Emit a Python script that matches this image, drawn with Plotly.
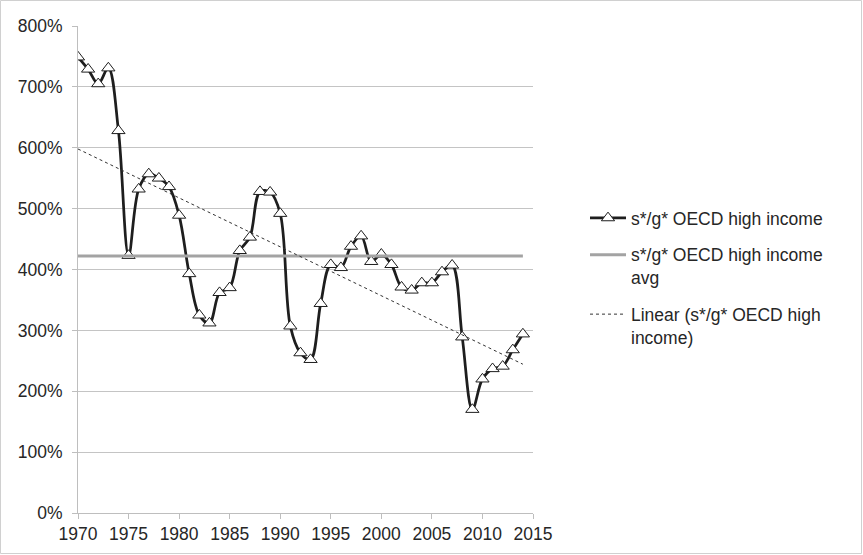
import numpy as np
import plotly.graph_objects as go

years = list(range(1970, 2015))
sg_values = [749, 729, 705, 731, 628, 423, 532, 557, 550, 536,
             489, 393, 325, 312, 362, 370, 431, 453, 528, 527,
             492, 307, 263, 252, 344, 408, 403, 438, 455, 413,
             425, 408, 371, 366, 378, 378, 396, 407, 289, 170,
             220, 237, 241, 268, 294]
avg_value = 422
x_ticks = list(range(1970, 2016, 5))
y_ticks = list(range(0, 801, 100))

name_main = "s*/g* OECD high income"
name_avg = "s*/g* OECD high income<br>avg"
name_lin = "Linear (s*/g* OECD high<br>income)"

coef = np.polyfit(years, sg_values, 1)
trend = np.polyval(coef, years)

W, H = 863, 555
ml, mr, mt, mb = 78, 863 - 533, 26, 555 - 513
pw, ph = W - ml - mr, H - mt - mb

fig = go.Figure()
fig.add_trace(go.Scatter(
    x=years, y=sg_values, name=name_main, legendgroup="a",
    mode="lines+markers",
    line=dict(color="#1e1e1e", width=2.75, shape="spline", smoothing=1.0),
    marker=dict(symbol="triangle-up", size=11.5, color="white",
                line=dict(color="#1e1e1e", width=1)),
))
fig.add_trace(go.Scatter(
    x=years, y=[avg_value] * len(years), name=name_avg, legendgroup="b",
    mode="lines", line=dict(color="#a3a3a3", width=3),
))
fig.add_trace(go.Scatter(
    x=years, y=trend, name=name_lin, legendgroup="c",
    mode="lines", line=dict(color="#333333", width=1, dash="3px,3px"),
))

font_family = "Liberation Sans, Arial, sans-serif"
fig.update_layout(
    width=W, height=H,
    margin=dict(l=ml, r=mr, t=mt, b=mb, pad=0),
    paper_bgcolor="white", plot_bgcolor="white",
    font=dict(family=font_family, size=17.5, color="#262626"),
    showlegend=True,
    legend=dict(x=(585 - ml) / pw, xanchor="left",
                y=(mt + ph - 200) / ph, yanchor="top",
                font=dict(size=17.5, color="#262626"),
                valign="top", tracegroupgap=11, itemwidth=36,
                bgcolor="rgba(0,0,0,0)"),
    xaxis=dict(range=[1970, 2015], tickvals=x_ticks, ticktext=[str(t) for t in x_ticks],
               showgrid=False, zeroline=False, showline=True, linecolor="#bebebe",
               linewidth=1, ticks="outside", ticklen=5, tickcolor="#bebebe"),
    yaxis=dict(range=[0, 800], tickvals=y_ticks, ticktext=[f"{t}%" for t in y_ticks],
               showgrid=True, gridcolor="#c4c4c4", gridwidth=1, zeroline=False,
               showline=True, linecolor="#bebebe", linewidth=1,
               ticks="outside", ticklen=5, tickcolor="#bebebe", ticklabelstandoff=6),
    shapes=[dict(type="rect", xref="paper", yref="paper",
                 x0=(0.5 - ml) / pw, x1=(W - 1.5 - ml) / pw,
                 y0=(mt + ph - (H - 1.5)) / ph, y1=(mt + ph - 0.5) / ph,
                 line=dict(color="#d0d0d0", width=1), layer="below")],
)

fig.write_html("out.html", config={"displayModeBar": False},
               post_script="document.body.style.margin='0';")
